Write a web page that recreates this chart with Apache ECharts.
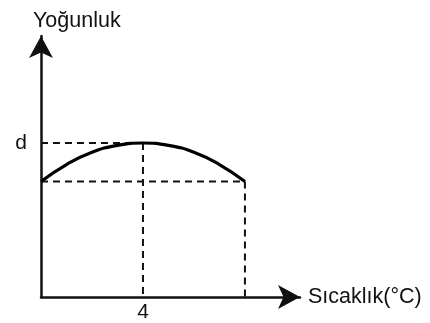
<!DOCTYPE html>
<html>
<head>
<meta charset="utf-8">
<script src="https://cdn.jsdelivr.net/npm/echarts@6/dist/echarts.min.js"></script>
<style>
  html, body { margin: 0; padding: 0; background: #ffffff; }
  #chart { width: 430px; height: 323px; }
</style>
</head>
<body>
<div id="chart"></div>
<script>
  // density curve (temperature, density with d = 1)
  const curveX = [0, 1, 2, 3, 4, 5, 6, 7, 8];
  const curveY = [0.75, 0.86, 0.94, 0.985, 1, 0.985, 0.94, 0.86, 0.75];
  // helper dashed guides
  const peakX = 4;
  const peakY = 1;
  const endX = 8;
  const endY = 0.75;
  const xTicks = [4];
  const yTicks = [1];
  const yTickNames = { 1: 'd' };

  const font = 'Liberation Sans, Arial, sans-serif';
  const dash = { color: '#111', width: 2, type: [7, 5] };

  const dashSeries = (points) => ({
    type: 'line',
    data: points,
    symbol: 'none',
    silent: true,
    lineStyle: dash,
    z: 1
  });

  const chart = echarts.init(document.getElementById('chart'));
  chart.setOption({
    animation: false,
    grid: { left: 41, right: 130, top: 36, bottom: 26 },
    xAxis: {
      type: 'value',
      min: 0,
      max: 10.16,
      name: 'Sıcaklık(°C)',
      nameLocation: 'end',
      nameGap: 8,
      nameTextStyle: { color: '#111', fontSize: 21.5, fontFamily: font },
      axisLine: {
        lineStyle: { color: '#111', width: 2.5 },
        symbol: ['none', 'arrow'],
        symbolSize: [18, 22]
      },
      axisTick: { show: false },
      splitLine: { show: false },
      axisLabel: {
        customValues: xTicks,
        margin: 5,
        color: '#111',
        fontSize: 21,
        fontFamily: font
      }
    },
    yAxis: {
      type: 'value',
      min: 0,
      max: 1.695,
      name: 'Yoğunluk',
      nameLocation: 'end',
      nameGap: 4,
      nameTextStyle: { color: '#111', fontSize: 21.5, fontFamily: font, align: 'left', padding: [0, 0, 0, -8] },
      axisLine: {
        lineStyle: { color: '#111', width: 2.5 },
        symbol: ['none', 'arrow'],
        symbolSize: [18, 22]
      },
      axisTick: { show: false },
      splitLine: { show: false },
      axisLabel: {
        customValues: yTicks,
        margin: 14,
        color: '#111',
        fontSize: 21,
        fontFamily: font,
        formatter: (v) => yTickNames[v] || ''
      }
    },
    series: [
      dashSeries([[0, peakY], [peakX, peakY]]),
      dashSeries([[peakX, peakY], [peakX, 0]]),
      dashSeries([[0, endY], [endX, endY]]),
      dashSeries([[endX, endY], [endX, 0]]),
      {
        type: 'line',
        data: curveX.map((x, i) => [x, curveY[i]]),
        smooth: true,
        symbol: 'none',
        lineStyle: { color: '#000', width: 3.2 },
        z: 3
      }
    ]
  });
</script>
</body>
</html>
